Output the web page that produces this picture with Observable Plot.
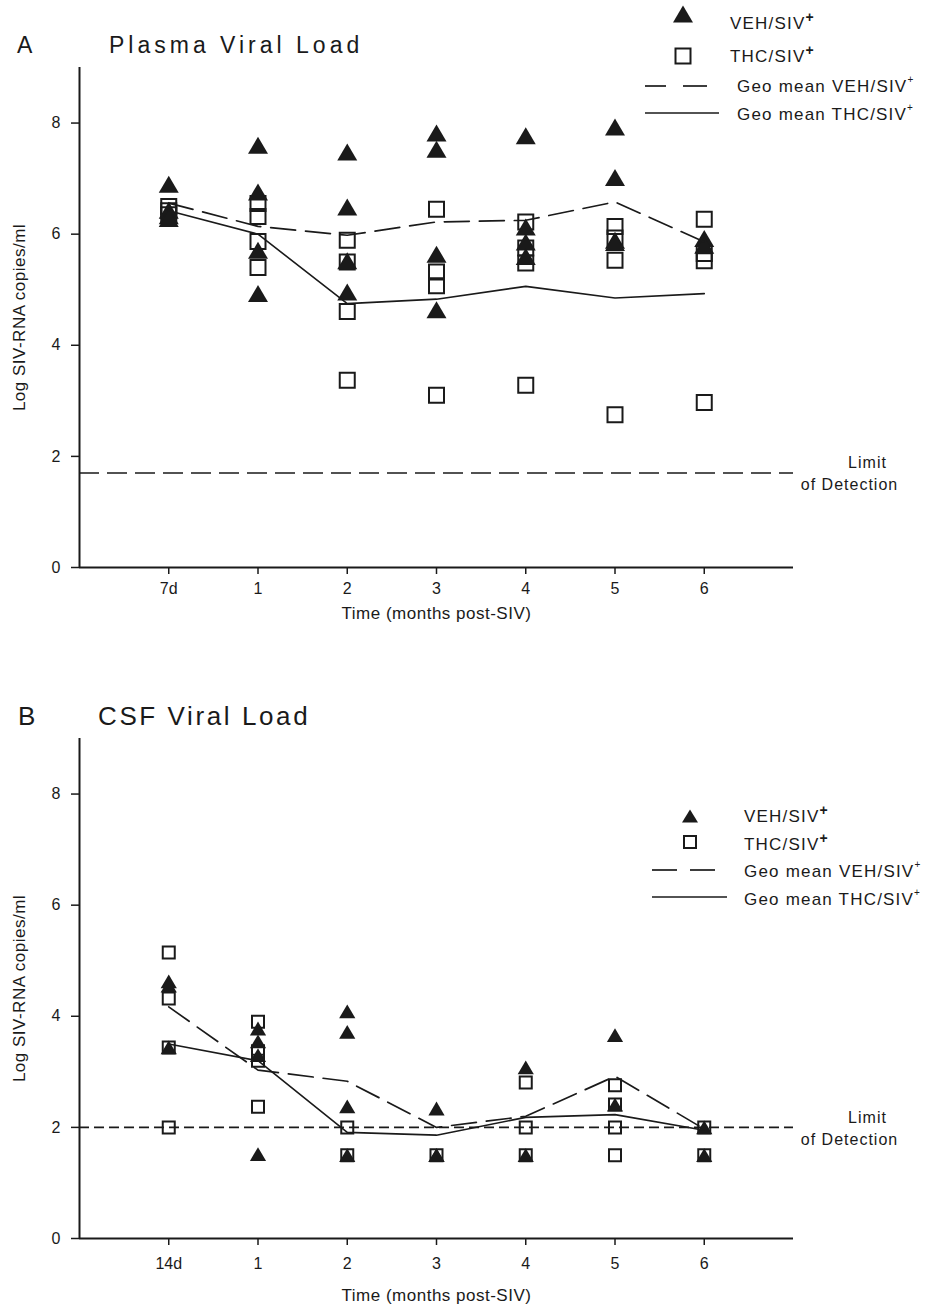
<!DOCTYPE html>
<html>
<head>
<meta charset="utf-8">
<script src="https://cdn.jsdelivr.net/npm/d3@7"></script>
<script src="https://cdn.jsdelivr.net/npm/@observablehq/plot@0.6"></script>
<style>
  body { margin: 0; background: #fff; }
  #page { position: relative; width: 929px; height: 1312px; overflow: hidden;
          font-family: "Liberation Sans", Arial, sans-serif; color: #1a1a1a; }
  .abs { position: absolute; white-space: nowrap; line-height: 1; }
  .title { font-size: 23px; }
  .leg { font-size: 17px; letter-spacing: 1.2px; }
  .leg sup.big { font-size: 14px; font-weight: bold; position: relative; top: -7px; vertical-align: baseline; letter-spacing: 0; }
  .leg sup.small { font-size: 10px; position: relative; top: -9px; vertical-align: baseline; letter-spacing: 0; }
  svg.overlay { position: absolute; left: 0; top: 0; pointer-events: none; }
</style>
</head>
<body>
<div id="page"></div>
<script>
// ---------------- DATA ----------------
const timeIndex = [0, 1, 2, 3, 4, 5, 6];
const xDomain = [-1, 7];
const yDomain = [0, 9];
const yTicks = [0, 2, 4, 6, 8];

// Panel A: Plasma
const plasmaTimes = ["7d", "1", "2", "3", "4", "5", "6"];
const plasmaVEH = [
  [6.90, 6.43, 6.33, 6.28],
  [7.60, 6.76, 5.71, 4.93],
  [7.48, 6.49, 5.52, 4.96],
  [7.82, 7.53, 5.64, 4.64],
  [7.77, 6.13, 5.86, 5.60],
  [7.93, 7.02, 5.89, 5.85],
  [5.92, 5.80]
];
const plasmaTHC = [
  [6.50, 6.42, 6.35],
  [6.55, 6.32, 5.87, 5.40],
  [5.89, 5.50, 4.61, 3.37],
  [6.45, 5.32, 5.07, 3.10],
  [6.22, 5.75, 5.48, 3.28],
  [6.14, 5.93, 5.53, 2.75],
  [6.27, 5.65, 5.52, 2.97]
];
const plasmaGeoVEH = [6.56, 6.14, 5.98, 6.22, 6.25, 6.58, 5.86];
const plasmaGeoTHC = [6.42, 6.00, 4.75, 4.83, 5.06, 4.85, 4.93];
const plasmaLOD = [1.7];

// Panel B: CSF
const csfTimes = ["14d", "1", "2", "3", "4", "5", "6"];
const csfVEH = [
  [4.63, 4.55, 3.44],
  [3.78, 3.55, 3.30, 1.52],
  [4.09, 3.72, 2.38, 1.50],
  [2.34, 1.50, 1.50],
  [3.08, 1.50],
  [3.66, 2.41],
  [2.00, 1.50]
];
const csfTHC = [
  [5.15, 4.32, 3.44, 2.00],
  [3.90, 3.37, 3.20, 2.37],
  [2.00, 1.50],
  [1.50],
  [2.81, 2.00, 1.50],
  [2.76, 2.41, 2.00, 1.50],
  [2.00, 1.50]
];
const csfGeoVEH = [4.17, 3.03, 2.83, 2.00, 2.20, 2.92, 1.97];
const csfGeoTHC = [3.50, 3.20, 1.91, 1.86, 2.18, 2.23, 1.95];
const csfLOD = [2.0];

// ---------------- SYMBOLS ----------------
const triSym = { draw(ctx, size) { const r = Math.sqrt(size / Math.PI); const w = 1.35 * r, h = 1.15 * r;
  ctx.moveTo(0, -h); ctx.lineTo(w, h); ctx.lineTo(-w, h); ctx.closePath(); } };
const sqSym = { draw(ctx, size) { const r = Math.sqrt(size / Math.PI);
  ctx.moveTo(-r, -r); ctx.lineTo(r, -r); ctx.lineTo(r, r); ctx.lineTo(-r, r); ctx.closePath(); } };

const INK = "#1a1a1a";
const FONT = "Liberation Sans, Arial, sans-serif";

function points(groups) { return groups.flatMap((vals, i) => vals.map(v => ({ t: timeIndex[i], v }))); }
function series(vals) { return vals.map((v, i) => ({ t: timeIndex[i], v })); }

function panel(o) {
  const svg = Plot.plot({
    width: 929, height: o.height,
    marginLeft: 79, marginRight: 136, marginTop: o.marginTop, marginBottom: o.marginBottom,
    x: { domain: xDomain }, y: { domain: yDomain },
    style: { fontFamily: FONT, fontSize: "16px", color: INK, background: "white", display: "block" },
    marks: [
      Plot.ruleY(o.lod, { strokeDasharray: o.lodDash, strokeWidth: 1.6, stroke: INK }),
      Plot.dot(points(o.thc), { x: "t", y: "v", symbol: sqSym, r: o.sqR, fill: "none", stroke: INK, strokeWidth: 2 }),
      Plot.dot(points(o.veh), { x: "t", y: "v", symbol: triSym, r: o.triR, fill: INK, stroke: "none" }),
      Plot.line(series(o.geoVEH), { x: "t", y: "v", stroke: INK, strokeWidth: 1.7, strokeDasharray: "25,10" }),
      Plot.line(series(o.geoTHC), { x: "t", y: "v", stroke: INK, strokeWidth: 1.6 }),
      Plot.ruleX([xDomain[0]], { stroke: INK, strokeWidth: 2 }),
      Plot.ruleY([yDomain[0]], { stroke: INK, strokeWidth: 2 }),
      Plot.axisY({ ticks: yTicks, tickSize: 8, tickPadding: 11, label: null, fontSize: 16, strokeWidth: 1.5 }),
      Plot.axisX({ ticks: timeIndex, tickSize: 7, tickPadding: o.xPad, tickFormat: i => o.times[i], label: null, fontSize: 16, strokeWidth: 1.5 }),
      Plot.text(o.lod, { y: d => d, frameAnchor: "right", dx: 74, dy: -10, text: () => "Limit", textAnchor: "middle", lineAnchor: "middle", fontSize: 16 }),
      Plot.text(o.lod, { y: d => d, frameAnchor: "right", dx: 56, dy: 12, text: () => "of Detection", textAnchor: "middle", lineAnchor: "middle", fontSize: 16 }),
      Plot.text(["Log SIV-RNA copies/ml"], { frameAnchor: "left", dx: -60, rotate: -90, textAnchor: "middle", lineAnchor: "middle", fontSize: 17 }),
      Plot.text(["Time (months post-SIV)"], { frameAnchor: "bottom", dy: o.titleDy, textAnchor: "middle", lineAnchor: "middle", fontSize: 17 })
    ]
  });
  svg.querySelectorAll("text").forEach(t => {
    const s = t.textContent;
    if (s === "Limit" || s === "of Detection") t.style.letterSpacing = "1px";
    if (s === "Log SIV-RNA copies/ml" || s === "Time (months post-SIV)") t.style.letterSpacing = "0.5px";
  });
  svg.style.position = "absolute";
  svg.style.left = "0px";
  svg.style.top = o.top + "px";
  return svg;
}

const page = document.getElementById("page");
page.appendChild(panel({ top: 0, height: 640, marginTop: 67, marginBottom: 73,
  times: plasmaTimes, veh: plasmaVEH, thc: plasmaTHC, geoVEH: plasmaGeoVEH, geoTHC: plasmaGeoTHC,
  lod: plasmaLOD, lodDash: "20,8", triR: 7.4, sqR: 7.5, xPad: 8, titleDy: 46 }));
page.appendChild(panel({ top: 640, height: 672, marginTop: 98, marginBottom: 74,
  times: csfTimes, veh: csfVEH, thc: csfTHC, geoVEH: csfGeoVEH, geoTHC: csfGeoTHC,
  lod: csfLOD, lodDash: "10,5", triR: 6, sqR: 6, xPad: 12, titleDy: 57 }));

// ---------------- TITLES & LEGENDS (HTML) ----------------
function addText(html, cls, left, top, extra) {
  const d = document.createElement("div");
  d.className = "abs " + cls;
  d.style.left = left + "px"; d.style.top = top + "px";
  if (extra) Object.assign(d.style, extra);
  d.innerHTML = html;
  page.appendChild(d);
}
addText("A", "title", 17, 34);
addText("Plasma Viral Load", "title", 109, 34, { letterSpacing: "4px" });
addText("B", "title", 18, 703, { fontSize: "26px" });
addText("CSF Viral Load", "title", 98, 703, { fontSize: "26px", letterSpacing: "2.6px" });

const legendItems = [
  { label: "VEH/SIV", sup: "big" },
  { label: "THC/SIV", sup: "big" },
  { label: "Geo mean VEH/SIV", sup: "small" },
  { label: "Geo mean THC/SIV", sup: "small" }
];
const legA = { tops: [14.8, 47.8, 77.8, 105.8], lefts: [730, 730, 737, 737] };
const legB = { tops: [807.8, 835.8, 862.8, 890.8], lefts: [744, 744, 744, 744] };
[legA, legB].forEach(L => legendItems.forEach((it, k) =>
  addText(it.label + '<sup class="' + it.sup + '">+</sup>', "leg", L.lefts[k], L.tops[k])));

// legend symbols overlay
const ns = "http://www.w3.org/2000/svg";
const ov = document.createElementNS(ns, "svg");
ov.setAttribute("class", "overlay"); ov.setAttribute("width", 929); ov.setAttribute("height", 1312);
function el(tag, attrs) { const e = document.createElementNS(ns, tag); for (const k in attrs) e.setAttribute(k, attrs[k]); ov.appendChild(e); }
function tri(cx, cy, w, h) { el("path", { d: `M${cx},${cy - h / 2}L${cx + w / 2},${cy + h / 2}L${cx - w / 2},${cy + h / 2}Z`, fill: INK }); }
function sq(cx, cy, s) { el("rect", { x: cx - s / 2, y: cy - s / 2, width: s, height: s, fill: "none", stroke: INK, "stroke-width": 2 }); }
function seg(x1, x2, y) { el("line", { x1, x2, y1: y, y2: y, stroke: INK, "stroke-width": 1.7 }); }
// A
tri(683, 14, 20, 17); sq(683, 56, 15);
seg(645, 666, 86); seg(683, 707, 86); seg(645, 719, 113);
// B
tri(690, 816, 16, 13); sq(690, 842, 12);
seg(652, 677, 870); seg(690, 715, 870); seg(652, 727, 897);
page.appendChild(ov);
</script>
</body>
</html>
